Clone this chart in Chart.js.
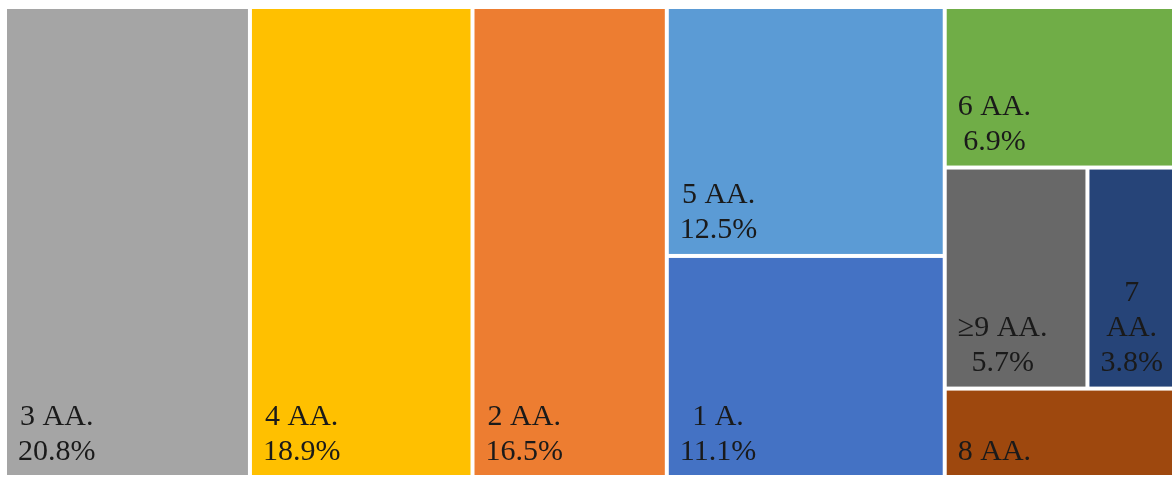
<!DOCTYPE html>
<html>
<head>
<meta charset="utf-8">
<script src="https://cdn.jsdelivr.net/npm/chart.js@4.4.0/dist/chart.umd.min.js"></script>
<style>
  html, body { margin: 0; padding: 0; background: #ffffff; }
  #caixa { width: 1172px; height: 477px; }
</style>
</head>
<body>
<div id="caixa"><canvas id="mapa-arvore"></canvas></div>
<script>
// Categorias e porcentagens de cada bloco
const categorias = ['3 AA.', '4 AA.', '2 AA.', '5 AA.', '1 A.', '6 AA.', '≥9 AA.', '7 AA.', '8 AA.'];
const porcentagens = [20.8, 18.9, 16.5, 12.5, 11.1, 6.9, 5.7, 3.8, 3.8];
const cores = ['#a5a5a5', '#ffc000', '#ed7d31', '#5b9bd5', '#4472c4', '#70ad47', '#686868', '#264478', '#9e480e'];

// Agrupamento dos blocos: 'h' divide lado a lado, 'v' empilha
const grupos = ['h', 0, 1, 2, ['v', 3, 4], ['v', 5, ['h', 6, 7], 8]];

// Soma das porcentagens de um grupo
function somaGrupo(no) {
    if (typeof no === 'number') return porcentagens[no];
    return no.slice(1).reduce(function (s, filho) { return s + somaGrupo(filho); }, 0);
}

// Divide o retângulo (em unidades dos eixos) proporcionalmente aos valores
function dividir(no, x0, y0, x1, y1, saida) {
    if (typeof no === 'number') {
        saida.push({ i: no, x0: x0, y0: y0, x1: x1, y1: y1 });
        return;
    }
    const total = somaGrupo(no);
    let pos = no[0] === 'h' ? x0 : y0;
    no.slice(1).forEach(function (filho) {
        const frac = somaGrupo(filho) / total;
        if (no[0] === 'h') {
            const fim = pos + (x1 - x0) * frac;
            dividir(filho, pos, y0, fim, y1, saida);
            pos = fim;
        } else {
            const fim = pos + (y1 - y0) * frac;
            dividir(filho, x0, pos, x1, fim, saida);
            pos = fim;
        }
    });
}

// Quebra o nome em linhas quando não cabe na largura
function quebrarTexto(ctx, texto, largura) {
    if (ctx.measureText(texto).width <= largura) return [texto];
    const palavras = texto.split(' ');
    const linhas = [];
    let atual = '';
    palavras.forEach(function (p) {
        const teste = atual ? atual + ' ' + p : p;
        if (atual && ctx.measureText(teste).width > largura) {
            linhas.push(atual);
            atual = p;
        } else {
            atual = teste;
        }
    });
    if (atual) linhas.push(atual);
    return linhas;
}

const espaco = 2;       // metade do espaço branco entre blocos
const recuo = 11;       // recuo do texto
const alturaLinha = 35;
const margemBase = 15.5;

// Plugin que desenha os blocos usando as escalas do gráfico
const pluginBlocos = {
    id: 'blocos',
    afterDatasetsDraw: function (chart) {
        const ctx = chart.ctx;
        const sx = chart.scales.x;
        const sy = chart.scales.y;
        const celulas = [];
        dividir(grupos, 0, 0, 100, 100, celulas);

        ctx.save();
        ctx.font = '30px "Liberation Serif", "Times New Roman", serif';
        ctx.textBaseline = 'alphabetic';
        ctx.textAlign = 'center';

        celulas.forEach(function (c) {
            const esq = sx.getPixelForValue(c.x0) + espaco;
            const dir = sx.getPixelForValue(c.x1) - espaco;
            const topo = sy.getPixelForValue(c.y0) + espaco;
            const base = sy.getPixelForValue(c.y1) - espaco;

            ctx.fillStyle = cores[c.i];
            ctx.fillRect(esq, topo, dir - esq, base - topo);

            // Rótulo: nome e porcentagem, alinhados embaixo
            let linhas = quebrarTexto(ctx, categorias[c.i], dir - esq - 2 * recuo);
            linhas.push(porcentagens[c.i].toFixed(1) + '%');
            while (linhas.length > 1 && linhas.length * alturaLinha + 2 * margemBase > base - topo) {
                linhas.pop();
            }
            const larguraBloco = Math.max.apply(null, linhas.map(function (l) { return ctx.measureText(l).width; }));
            const centro = esq + recuo + larguraBloco / 2;
            ctx.fillStyle = '#1a1a1a';
            linhas.forEach(function (l, k) {
                const y = base - margemBase - (linhas.length - 1 - k) * alturaLinha;
                ctx.fillText(l, centro, y);
            });
        });
        ctx.restore();
    }
};

const config = {
    type: 'scatter',
    data: { datasets: [] },
    options: {
        responsive: true,
        maintainAspectRatio: false,
        animation: false,
        layout: { padding: { left: 5, top: 7, right: 0, bottom: 0 } },
        plugins: { legend: { display: false }, tooltip: { enabled: false } },
        scales: {
            // a borda direita da figura fica recortada
            x: { type: 'linear', min: 0, max: 99.1, display: false },
            y: { type: 'linear', min: 0, max: 100, reverse: true, display: false }
        }
    },
    plugins: [pluginBlocos]
};

new Chart(document.getElementById('mapa-arvore'), config);
</script>
</body>
</html>
